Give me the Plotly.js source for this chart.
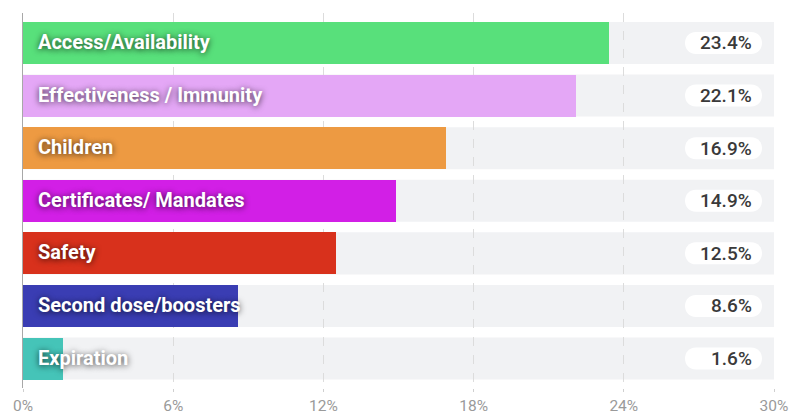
<!DOCTYPE html>
<html>
<head>
<meta charset="utf-8">
<script src="https://cdn.plot.ly/plotly-3.0.1.min.js"></script>
<style>html,body{margin:0;padding:0;background:#fff;}#chart{width:791px;height:414px;}</style>
</head>
<body>
<div id="chart"></div>
<script>
const categories = ["Access/Availability", "Effectiveness / Immunity", "Children", "Certificates/ Mandates", "Safety", "Second dose/boosters", "Expiration"];
const values = [23.4, 22.1, 16.9, 14.9, 12.5, 8.6, 1.6];
const barColors = ["#58e07b", "#e4a7f6", "#ed9a42", "#d21fe6", "#d8311c", "#3a3db3", "#45c4b8"];
const tickVals = [0, 6, 12, 18, 24, 30];
const tickText = ["0%", "6%", "12%", "18%", "24%", "30%"];
const axisMax = 30;

const half = 0.4;
const shapes = [];
categories.forEach((c, i) => {
  shapes.push({type: "rect", layer: "below", xref: "paper", yref: "y", x0: 0, x1: 1, y0: i - half, y1: i + half, fillcolor: "#f1f2f4", line: {width: 0}});
});
const r = 11, L = -78, R = -23;
const k = r * 4 / 3;
const pill = `M${L},${-r} L${R},${-r} C${R + k},${-r} ${R + k},${r} ${R},${r} L${L},${r} C${L - k},${r} ${L - k},${-r} ${L},${-r} Z`;
categories.forEach((c, i) => {
  shapes.push({type: "path", layer: "below", xref: "paper", yref: "y", xsizemode: "pixel", ysizemode: "pixel", xanchor: 1, yanchor: i, path: pill, fillcolor: "#ffffff", line: {width: 0}});
});

const annotations = [];
categories.forEach((c, i) => {
  annotations.push({xref: "x", yref: "y", x: 0, y: i, xanchor: "left", yanchor: "middle", xshift: 13, yshift: 1, showarrow: false, text: c,
    font: {family: "Roboto, sans-serif", size: 20, weight: 700, color: "#ffffff", shadow: "0px 1px 6px rgba(0,0,0,0.75)"}});
  annotations.push({xref: "paper", yref: "y", x: 1, y: i, xanchor: "right", yanchor: "middle", xshift: -20, yshift: 0, showarrow: false, text: values[i].toFixed(1) + "%",
    font: {family: "Roboto, sans-serif", size: 19, weight: 500, color: "#3a3a3a"}});
});

const trace = {
  type: "bar", orientation: "h", y: categories.map((c, i) => i), x: values,
  width: 2 * half, marker: {color: barColors, line: {width: 0}}, hoverinfo: "skip", textposition: "none"
};

const layout = {
  width: 791, height: 414,
  margin: {l: 23, r: 17, t: 13, b: 26},
  paper_bgcolor: "#ffffff", plot_bgcolor: "rgba(0,0,0,0)",
  showlegend: false,
  xaxis: {range: [0, axisMax], tickvals: tickVals, ticktext: tickText, showgrid: true, gridcolor: "#dcdcdc", griddash: "dash", gridwidth: 1,
    zeroline: false, showline: false, ticks: "outside", ticklen: 3, tickcolor: "#cfcfcf", tickfont: {family: "Roboto, sans-serif", size: 15.5, color: "#9a9a9a"}, fixedrange: true},
  yaxis: {range: [6.56, -0.57], showticklabels: false, showgrid: false, zeroline: false, showline: true, linecolor: "#a8a8a8", linewidth: 1.5, ticks: "", fixedrange: true},
  shapes: shapes,
  annotations: annotations,
  bargap: 0
};

Plotly.newPlot("chart", [trace], layout, {displayModeBar: false, staticPlot: true});
</script>
</body>
</html>
